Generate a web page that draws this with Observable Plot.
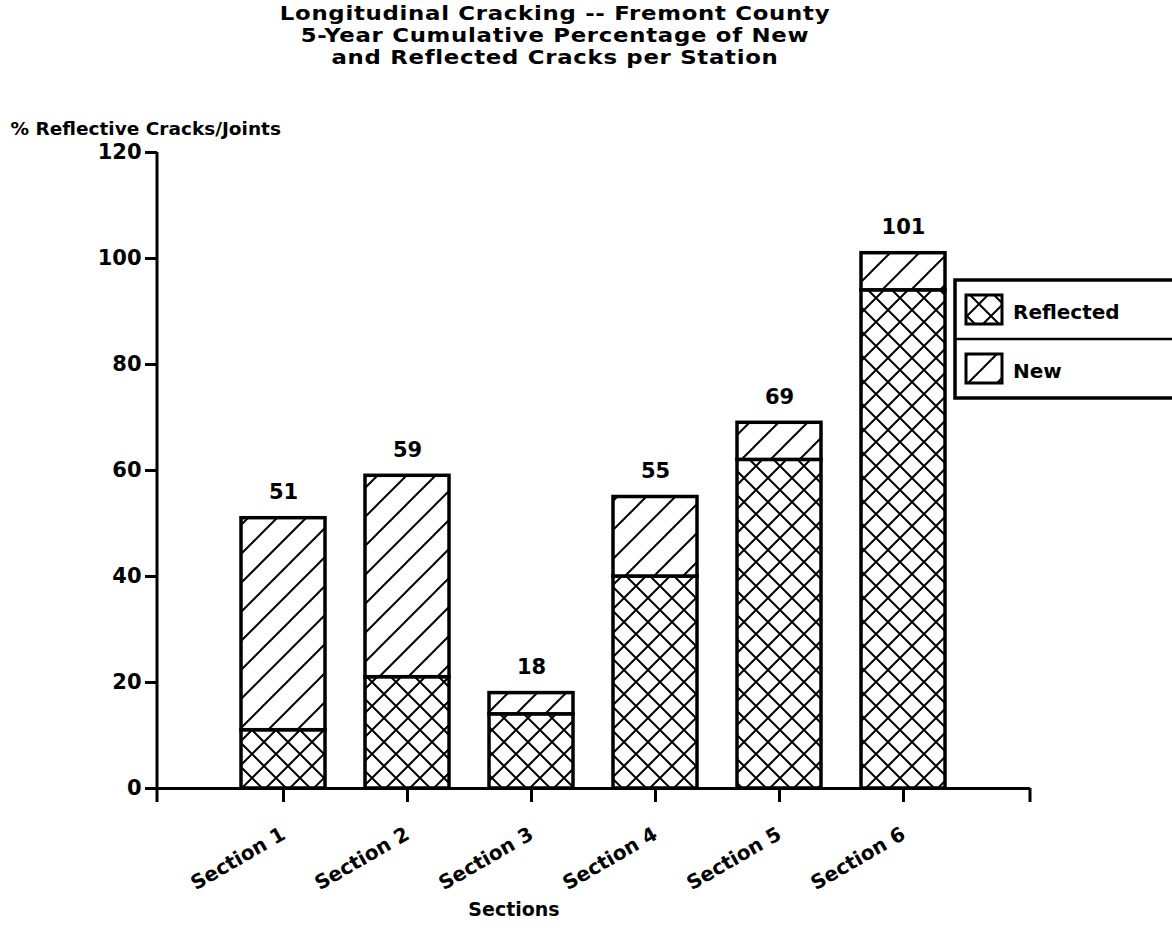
<!DOCTYPE html>
<html><head><meta charset="utf-8">
<script src="https://cdn.jsdelivr.net/npm/d3@7"></script>
<script src="https://cdn.jsdelivr.net/npm/@observablehq/plot@0.6"></script>
<style>
body{margin:0;background:#fff;font-family:"DejaVu Sans",sans-serif;color:#000;}
#title{height:70px;width:1110px;padding-top:2px;box-sizing:border-box;}
#title div{text-align:center;font-weight:bold;font-size:19px;line-height:22px;height:22px;letter-spacing:0.6px;transform:scaleX(1.2);transform-origin:555px 50%;}
#chart svg{display:block;}
</style></head><body>
<div id="title"><div>Longitudinal Cracking -- Fremont County</div><div>5-Year Cumulative Percentage of New</div><div>and Reflected Cracks per Station</div></div>
<div id="chart"></div>
<script>
const sections = ["Section 1", "Section 2", "Section 3", "Section 4", "Section 5", "Section 6"];
const reflected = [11, 21, 14, 40, 62, 94];
const newCracks = [40, 38, 4, 15, 7, 7];
const totals = [51, 59, 18, 55, 69, 101];
const yTicks = [0, 20, 40, 60, 80, 100, 120];
const seriesNames = ["Reflected", "New"];
const yLabel = "% Reflective Cracks/Joints";
const xLabel = "Sections";

const rows = sections.map((s, i) => ({
  section: s,
  reflected: reflected[i],
  top: reflected[i] + newCracks[i],
  total: totals[i]
}));

const W = 1172, H = 862, ML = 157, MR = 142, MT = 82, MB = 144;
const step = (W - ML - MR) / 7;

const plot = Plot.plot({
  width: W, height: H,
  marginLeft: ML, marginRight: MR, marginTop: MT, marginBottom: MB,
  style: {fontFamily: "DejaVu Sans, sans-serif", color: "#000", background: "#fff", overflow: "visible"},
  x: {type: "band", domain: sections, range: [ML + step / 2, W - MR - step / 2], paddingInner: 0.32, paddingOuter: 0.16},
  y: {domain: [0, 120]},
  marks: [
    Plot.barY(rows, {x: "section", y1: 0, y2: "reflected", fill: "url(#cross)", stroke: "#000", strokeWidth: 3.5}),
    Plot.barY(rows, {x: "section", y1: "reflected", y2: "top", fill: "url(#diag)", stroke: "#000", strokeWidth: 3.5}),
    Plot.text(rows, {x: "section", y: "total", text: d => String(d.total), dy: -19, lineAnchor: "bottom", fontSize: 21, fontWeight: "bold"}),
    Plot.axisY({ticks: yTicks, tickSize: 12, tickPadding: 4, strokeWidth: 3, fontSize: 21, fontWeight: "bold", label: null}),
    Plot.axisX({tickSize: 14, tickPadding: 30, tickRotate: -30, strokeWidth: 3, fontSize: 20, fontWeight: "bold", label: null}),
    Plot.ruleY([0], {strokeWidth: 3}),
    Plot.text([yLabel], {frameAnchor: "top-left", dx: -147, dy: -18, textAnchor: "start", lineAnchor: "bottom", fontSize: 18.5, fontWeight: "bold"}),
    Plot.text([xLabel], {frameAnchor: "bottom", dx: -80, dy: 127, lineAnchor: "bottom", fontSize: 19, fontWeight: "bold"})
  ]
});

const svg = d3.select(plot);
const defs = svg.insert("defs", ":first-child");
const cross = defs.append("pattern").attr("id", "cross").attr("patternUnits", "userSpaceOnUse")
  .attr("width", 24).attr("height", 24);
cross.append("rect").attr("width", 24).attr("height", 24).attr("fill", "#fff");
cross.append("path").attr("d", "M-2,-2L26,26M-2,26L26,-2").attr("stroke", "#000").attr("stroke-width", 2);
const diag = defs.append("pattern").attr("id", "diag").attr("patternUnits", "userSpaceOnUse")
  .attr("width", 29).attr("height", 29);
diag.append("rect").attr("width", 29).attr("height", 29).attr("fill", "#fff");
diag.append("path").attr("d", "M-3,32L32,-3M-3,3L3,-3M26,32L32,26").attr("stroke", "#000").attr("stroke-width", 2);

const y = plot.scale("y");
const y0 = y.apply(0), yTop = y.apply(120);
const g = svg.append("g").attr("stroke", "#000").attr("stroke-width", 3).attr("fill", "none");
g.append("line").attr("x1", ML).attr("x2", ML).attr("y1", yTop).attr("y2", y0 + 14);
g.append("line").attr("x1", W - MR).attr("x2", W - MR).attr("y1", y0).attr("y2", y0 + 14);

// legend
const lg = svg.append("g").attr("transform", `translate(955,${y.apply(100) + 22})`);
lg.append("rect").attr("x", 0).attr("y", 0).attr("width", 240).attr("height", 118).attr("fill", "#fff").attr("stroke", "#000").attr("stroke-width", 3.5);
lg.append("line").attr("x1", 0).attr("x2", 240).attr("y1", 59).attr("y2", 59).attr("stroke", "#000").attr("stroke-width", 2.5);
seriesNames.forEach((name, i) => {
  const yy = i * 59;
  lg.append("rect").attr("x", 11).attr("y", yy + 15).attr("width", 36).attr("height", 29)
    .attr("fill", i === 0 ? "url(#cross)" : "url(#diag)").attr("stroke", "#000").attr("stroke-width", 3);
  lg.append("text").attr("x", 58).attr("y", yy + 39).text(name)
    .attr("text-anchor", "start")
    .attr("font-size", 20).attr("font-weight", "bold").attr("fill", "#000");
});

document.getElementById("chart").append(plot);
</script>
</body></html>
